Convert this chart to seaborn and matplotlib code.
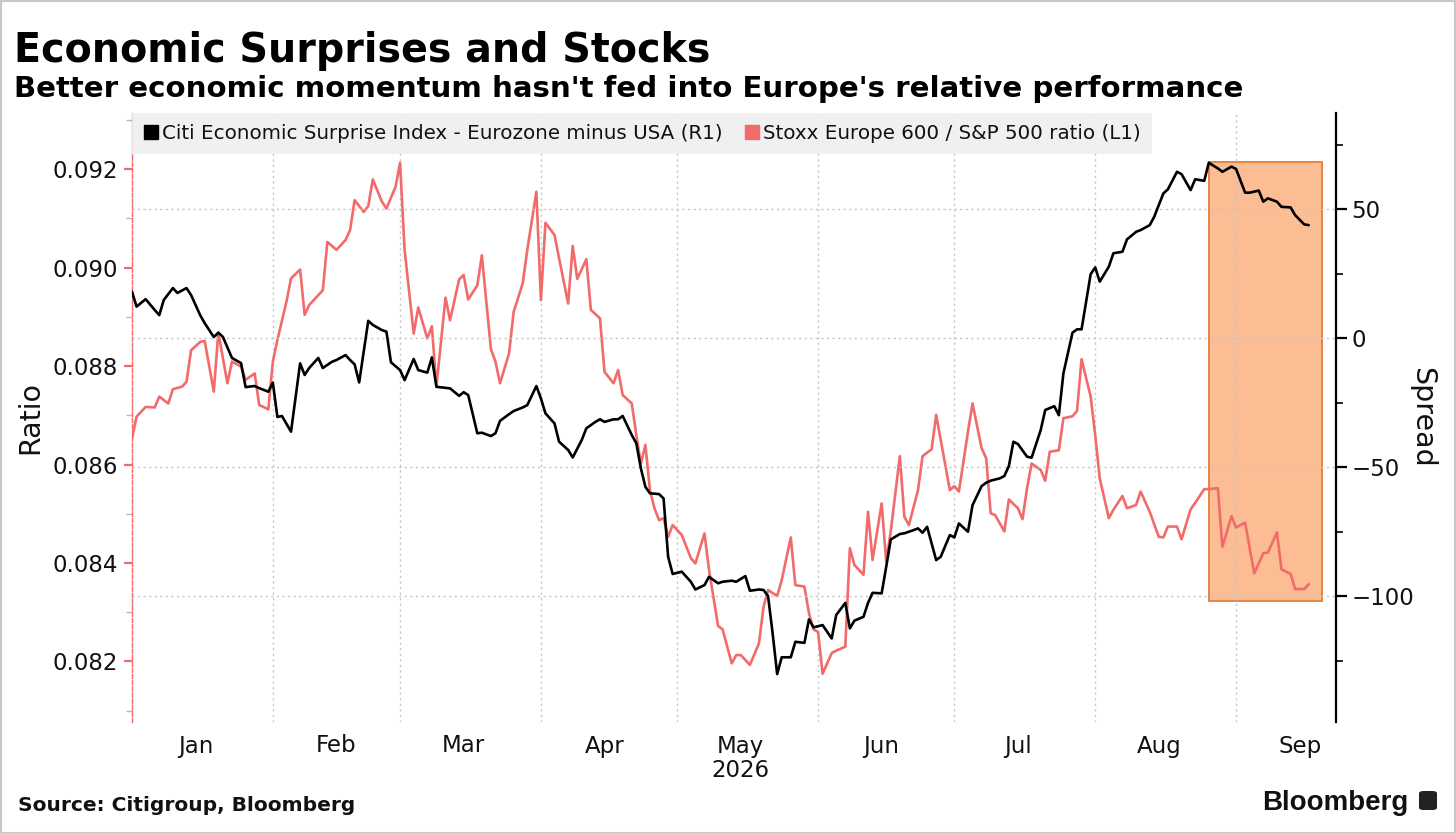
import pandas as pd
import seaborn as sns
import matplotlib.pyplot as plt
import matplotlib.dates as mdates
import matplotlib.transforms as mtransforms
from matplotlib.lines import Line2D
from matplotlib.patches import Rectangle, FancyBboxPatch
from matplotlib.ticker import MultipleLocator, NullFormatter

# Citi Economic Surprise Index, Eurozone minus USA (right axis)
csi_dates = [
    "01-01", "01-02", "01-04", "01-06", "01-07", "01-08", "01-10", "01-11", "01-13", "01-14", "01-16",
    "01-17", "01-19", "01-20", "01-21", "01-23", "01-25", "01-26", "01-28", "01-29", "01-31",
    "02-01", "02-02", "02-03", "02-05", "02-07", "02-08", "02-09", "02-11", "02-12", "02-14",
    "02-15", "02-17", "02-18", "02-19", "02-20", "02-22", "02-23", "02-25", "02-26", "02-27",
    "03-01", "03-02", "03-04", "03-05", "03-07", "03-08", "03-09", "03-11", "03-12", "03-14", "03-15",
    "03-16", "03-18", "03-19", "03-21", "03-22", "03-23", "03-25", "03-26", "03-28", "03-29", "03-31",
    "04-01", "04-02", "04-04", "04-05", "04-07", "04-08", "04-10", "04-11", "04-13", "04-14", "04-15",
    "04-17", "04-18", "04-19", "04-21", "04-22", "04-23", "04-24", "04-25", "04-27", "04-28", "04-29", "04-30",
    "05-02", "05-04", "05-05", "05-07", "05-08", "05-10", "05-11", "05-13", "05-14", "05-16", "05-17",
    "05-19", "05-20", "05-21", "05-22", "05-23", "05-24", "05-26", "05-27", "05-29", "05-30", "05-31",
    "06-02", "06-04", "06-05", "06-07", "06-08", "06-09", "06-11", "06-12", "06-13", "06-15", "06-16",
    "06-17", "06-19", "06-20", "06-22", "06-23", "06-24", "06-25", "06-27", "06-28", "06-30",
    "07-01", "07-02", "07-04", "07-05", "07-07", "07-08", "07-09", "07-11", "07-12", "07-13", "07-14",
    "07-15", "07-17", "07-18", "07-20", "07-21", "07-23", "07-24", "07-25", "07-27", "07-28", "07-29", "07-31",
    "08-01", "08-02", "08-04", "08-05", "08-07", "08-08", "08-10", "08-11", "08-13", "08-14", "08-16",
    "08-17", "08-19", "08-20", "08-22", "08-23", "08-25", "08-26", "08-28", "08-29", "08-31",
    "09-01", "09-03", "09-04", "09-06", "09-07", "09-08", "09-10", "09-11", "09-13", "09-14", "09-16", "09-17",
]
csi_values = [
    18.1, 12.3, 15.2, 11.0, 9.0, 14.9, 19.5, 17.6, 19.5, 16.8, 9.0,
    5.9, 0.5, 2.2, 0.6, -7.6, -9.6, -18.9, -18.5, -19.3, -20.7,
    -17.2, -30.5, -30.1, -36.2, -9.7, -14.2, -11.5, -7.6, -11.5, -9.1,
    -8.4, -6.5, -8.4, -10.1, -17.1, 6.8, 5.2, 3.2, 2.6, -9.3,
    -12.3, -16.2, -8.0, -12.3, -13.3, -7.4, -18.8, -19.2, -19.4, -22.3, -20.9,
    -22.0, -36.8, -36.6, -37.9, -36.8, -32.0, -29.4, -28.2, -26.8, -25.9, -18.5,
    -23.3, -29.1, -33.0, -40.1, -43.3, -46.2, -39.4, -34.9, -32.4, -31.4, -32.4,
    -31.4, -31.4, -30.1, -37.5, -40.7, -50.4, -57.6, -60.1, -60.4, -62.1, -84.7, -91.4,
    -90.5, -94.4, -97.4, -95.7, -92.5, -95.0, -94.4, -94.0, -94.4, -92.2, -97.9,
    -97.4, -97.6, -100.0, -114.4, -130.2, -123.7, -123.7, -117.7, -118.1, -109.0, -112.1,
    -111.2, -116.4, -107.3, -102.6, -112.5, -109.5, -108.0, -102.6, -98.7, -98.9, -88.6,
    -78.0, -75.9, -75.6, -74.4, -73.7, -75.4, -73.1, -86.0, -84.7, -76.3,
    -77.2, -71.8, -75.0, -64.7, -57.3, -56.0, -55.2, -54.3, -53.4, -49.5, -40.1,
    -41.0, -45.9, -46.3, -35.6, -27.8, -26.3, -29.8, -13.6, 2.2, 3.5, 3.5, 24.9,
    27.5, 22.0, 27.8, 33.0, 33.6, 38.4, 41.3, 42.0, 43.9, 47.2, 56.2,
    57.8, 64.6, 63.7, 57.5, 61.7, 61.1, 68.1, 65.9, 64.6, 66.6,
    65.7, 56.5, 56.5, 57.3, 53.0, 54.3, 53.0, 51.0, 50.8, 47.8, 44.2, 43.9,
]

# Stoxx Europe 600 / S&P 500 ratio (left axis)
ratio_dates = [
    "01-01", "01-02", "01-04", "01-06", "01-07", "01-09", "01-10", "01-12", "01-13", "01-14", "01-16",
    "01-17", "01-19", "01-20", "01-22", "01-23", "01-25", "01-26", "01-28", "01-29", "01-31",
    "02-01", "02-02", "02-04", "02-05", "02-07", "02-08", "02-09", "02-11", "02-12", "02-13",
    "02-15", "02-17", "02-18", "02-19", "02-21", "02-22", "02-23", "02-25", "02-26", "02-28",
    "03-01", "03-02", "03-04", "03-05", "03-07", "03-08", "03-09", "03-11", "03-12", "03-14", "03-15",
    "03-16", "03-18", "03-19", "03-21", "03-22", "03-23", "03-25", "03-26", "03-28", "03-29", "03-31",
    "04-01", "04-02", "04-04", "04-05", "04-07", "04-08", "04-09", "04-11", "04-12", "04-14", "04-15", "04-17",
    "04-18", "04-19", "04-21", "04-22", "04-23", "04-24", "04-25", "04-26", "04-27", "04-28", "04-29", "04-30",
    "05-02", "05-04", "05-05", "05-07", "05-08", "05-10", "05-11", "05-13", "05-14", "05-15", "05-17",
    "05-19", "05-20", "05-21", "05-23", "05-24", "05-26", "05-27", "05-29", "05-30", "05-31",
    "06-01", "06-02", "06-04", "06-05", "06-07", "06-08", "06-09", "06-11", "06-12", "06-13", "06-15",
    "06-16", "06-17", "06-19", "06-20", "06-21", "06-23", "06-24", "06-26", "06-27", "06-28", "06-30",
    "07-01", "07-02", "07-04", "07-05", "07-07", "07-08", "07-09", "07-10", "07-12", "07-13", "07-15",
    "07-16", "07-17", "07-18", "07-20", "07-21", "07-22", "07-24", "07-25", "07-27", "07-28", "07-29", "07-31",
    "08-01", "08-02", "08-04", "08-05", "08-07", "08-08", "08-10", "08-11", "08-13", "08-15", "08-16",
    "08-17", "08-19", "08-20", "08-22", "08-23", "08-25", "08-26", "08-28", "08-29", "08-31",
    "09-01", "09-03", "09-04", "09-05", "09-07", "09-08", "09-10", "09-11", "09-13", "09-14", "09-16", "09-17",
]
ratio_values = [
    0.08653, 0.08697, 0.08717, 0.08716, 0.08738, 0.08724, 0.08753, 0.08758, 0.08768, 0.08832, 0.08849,
    0.08851, 0.08748, 0.08868, 0.08765, 0.08809, 0.08799, 0.08772, 0.08785, 0.08721, 0.08712,
    0.08809, 0.08853, 0.08931, 0.08978, 0.08996, 0.08904, 0.08924, 0.08944, 0.08954, 0.09052,
    0.09036, 0.09056, 0.09076, 0.09137, 0.09113, 0.09125, 0.09179, 0.09134, 0.09120, 0.09164,
    0.09213, 0.09036, 0.08866, 0.08919, 0.08856, 0.08881, 0.08758, 0.08939, 0.08893, 0.08976, 0.08985,
    0.08935, 0.08964, 0.09025, 0.08834, 0.08809, 0.08765, 0.08826, 0.08910, 0.08968, 0.09036, 0.09154,
    0.08934, 0.09091, 0.09066, 0.09019, 0.08927, 0.09044, 0.08977, 0.09017, 0.08914, 0.08897, 0.08788, 0.08765,
    0.08792, 0.08741, 0.08724, 0.08660, 0.08602, 0.08640, 0.08548, 0.08511, 0.08487, 0.08491, 0.08453, 0.08477,
    0.08457, 0.08410, 0.08399, 0.08460, 0.08386, 0.08272, 0.08265, 0.08196, 0.08213, 0.08213, 0.08193,
    0.08237, 0.08311, 0.08345, 0.08333, 0.08365, 0.08452, 0.08355, 0.08352, 0.08298, 0.08265,
    0.08260, 0.08175, 0.08217, 0.08222, 0.08230, 0.08430, 0.08396, 0.08376, 0.08504, 0.08406, 0.08521,
    0.08403, 0.08464, 0.08617, 0.08494, 0.08477, 0.08548, 0.08617, 0.08631, 0.08701, 0.08650, 0.08548,
    0.08556, 0.08545, 0.08667, 0.08724, 0.08633, 0.08613, 0.08501, 0.08497, 0.08464, 0.08529, 0.08511,
    0.08489, 0.08552, 0.08602, 0.08589, 0.08567, 0.08626, 0.08629, 0.08694, 0.08698, 0.08709, 0.08814, 0.08738,
    0.08660, 0.08572, 0.08491, 0.08508, 0.08536, 0.08511, 0.08518, 0.08545, 0.08504, 0.08453, 0.08452,
    0.08474, 0.08474, 0.08448, 0.08509, 0.08522, 0.08550, 0.08550, 0.08552, 0.08433, 0.08495,
    0.08472, 0.08482, 0.08430, 0.08379, 0.08420, 0.08421, 0.08462, 0.08387, 0.08378, 0.08347, 0.08347, 0.08357,
]

year = 2026
x_range = ("2026-01-01", "2026-09-23")
ratio_range = (0.08077, 0.09314)
spread_range = (-148.8, 87.4)

# highlighted box (spread units on the right axis)
box_start, box_end = "2026-08-26", "2026-09-20"
box_top, box_bottom = 68.3, -102.0

csi_label = "Citi Economic Surprise Index - Eurozone minus USA (R1)"
ratio_label = "Stoxx Europe 600 / S&P 500 ratio (L1)"

RED = "#f26b6b"
GRID = "#c4c4c4"

sns.set_theme(style="white")
plt.rcParams["font.family"] = ["DejaVu Sans"]

csi = pd.DataFrame({"date": pd.to_datetime([f"{year}-{d}" for d in csi_dates]), "spread": csi_values})
ratio = pd.DataFrame({"date": pd.to_datetime([f"{year}-{d}" for d in ratio_dates]), "ratio": ratio_values})

W, H = 1456, 833
fig = plt.figure(figsize=(W / 100, H / 100), dpi=100)
ax = fig.add_axes([132 / W, 1 - 722 / H, (1336 - 132) / W, (722 - 113) / H])
ax2 = ax.twinx()

sns.lineplot(data=ratio, x="date", y="ratio", ax=ax, color=RED, linewidth=1.9, zorder=3)
sns.lineplot(data=csi, x="date", y="spread", ax=ax2, color="black", linewidth=1.9, zorder=3)

ax.set_xlim(pd.Timestamp(x_range[0]), pd.Timestamp(x_range[1]))
ax.set_ylim(*ratio_range)
ax2.set_ylim(*spread_range)

# highlight box, drawn in the lower axes so both lines sit above it
x0 = mdates.date2num(pd.Timestamp(box_start))
x1 = mdates.date2num(pd.Timestamp(box_end))
ax.add_patch(Rectangle((x0, box_bottom), x1 - x0, box_top - box_bottom,
                       transform=ax2.transData, facecolor="#fcbd95",
                       edgecolor="#e8843f", linewidth=1.4, zorder=0.4))

# x axis: gridlines at month starts, labels mid-month
ax.xaxis.set_major_locator(mdates.MonthLocator())
ax.xaxis.set_major_formatter(NullFormatter())
ax.xaxis.set_minor_locator(mdates.MonthLocator(bymonthday=15))
ax.xaxis.set_minor_formatter(mdates.DateFormatter("%b"))
ax.tick_params(axis="x", which="both", length=0, labelsize=16.5, pad=9, labelcolor="#111111")
ax.set_xlabel("")
ax2.set_xlabel("")
ax.text(pd.Timestamp(f"{year}-05-15"), -0.08, str(year), fontsize=16.5, ha="center", va="center",
        color="#111111", transform=mtransforms.blended_transform_factory(ax.transData, ax.transAxes))

# left axis (ratio)
ax.yaxis.set_major_locator(MultipleLocator(0.002))
ax.yaxis.set_minor_locator(MultipleLocator(0.001))
ax.yaxis.set_major_formatter(plt.FormatStrFormatter("%.3f"))
ax.tick_params(axis="y", which="major", direction="out", length=6, width=1.6, color=RED,
               labelsize=16.5, pad=4, labelcolor="#111111")
ax.tick_params(axis="y", which="minor", direction="out", length=4, width=1, color="#b8b8b8")
ax.set_ylabel("Ratio", fontsize=20.5, labelpad=6, color="#111111")

# right axis (spread)
ax2.yaxis.set_major_locator(MultipleLocator(50))
ax2.yaxis.set_minor_locator(MultipleLocator(25))
ax2.tick_params(axis="y", which="major", direction="out", length=8, width=1.6, color="black",
                labelsize=16.5, pad=3, labelcolor="#111111")
ax2.tick_params(axis="y", which="minor", direction="out", length=5, width=1.2, color="black")
ax2.set_ylabel("Spread", fontsize=20.5, rotation=270, labelpad=16, color="#111111")

# grids
ax.set_axisbelow(True)
ax2.set_axisbelow(True)
ax.grid(axis="x", which="major", color=GRID, linestyle=(0, (1.5, 2.5)), linewidth=1)
ax.grid(axis="y", visible=False)
ax2.grid(axis="y", which="major", color=GRID, linestyle=(0, (1.5, 2.5)), linewidth=1)
ax2.grid(axis="x", visible=False)

for side in ["top", "bottom", "right"]:
    ax.spines[side].set_visible(False)
for side in ["top", "bottom", "left"]:
    ax2.spines[side].set_visible(False)
ax.spines["left"].set_color(RED)
ax.spines["left"].set_linewidth(1)
ax.spines["left"].set_linestyle((0, (3, 1.5)))
ax2.spines["right"].set_color("black")
ax2.spines["right"].set_linewidth(1.6)

# legend
handles = [Line2D([], [], linestyle="none", marker="s", markersize=10, color="black"),
           Line2D([], [], linestyle="none", marker="s", markersize=10, color=RED)]
leg = ax2.legend(handles, [csi_label, ratio_label], loc="upper left", bbox_to_anchor=(0, 1),
                 ncol=2, fontsize=14.3, frameon=True, fancybox=False, facecolor="#efefef",
                 edgecolor="none", framealpha=0.9, borderaxespad=0, borderpad=0.55,
                 handlelength=0.8, handletextpad=0.15, columnspacing=1.1)
for t in leg.get_texts():
    t.set_color("#111111")

# titles and footer
fig.text(14 / W, 1 - 62 / H, "Economic Surprises and Stocks", fontsize=28.5, fontweight="bold",
         va="baseline", ha="left", color="black")
fig.text(14 / W, 1 - 97 / H, "Better economic momentum hasn't fed into Europe's relative performance",
         fontsize=21.1, fontweight="bold", va="baseline", ha="left", color="black")
fig.text(18 / W, 1 - 811 / H, "Source: Citigroup, Bloomberg", fontsize=14.5, fontweight="bold",
         va="baseline", ha="left", color="#111111")
fig.text(1408 / W, 1 - 810 / H, "Bloomberg", fontsize=20, fontweight="bold", family="Liberation Sans",
         va="baseline", ha="right", color="#111111")
fig.patches.append(FancyBboxPatch((1419 / W, 1 - 810 / H), 18 / W, 19 / H,
                                  boxstyle="round,pad=0,rounding_size=0.003",
                                  transform=fig.transFigure, facecolor="#222222", edgecolor="none"))
fig.patches.append(Rectangle((0.5 / W, 0.5 / H), 1 - 1.5 / W, 1 - 1.5 / H, transform=fig.transFigure,
                             facecolor="none", edgecolor="#c8c8c8", linewidth=1.5))

fig.savefig("out.png", dpi=100)
